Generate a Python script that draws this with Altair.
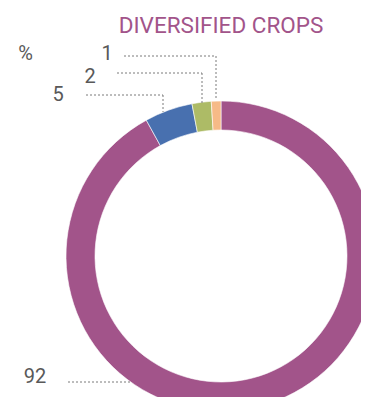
import altair as alt
import pandas as pd

# Data
categories = ["Main", "B", "C", "D"]
values = [92, 5, 2, 1]
colors = ["#A2548A", "#4870AF", "#ADBB66", "#F6BA87"]
title_text = "DIVERSIFIED CROPS"
unit_text = "%"

# Annotation layout (pixel placement of the callouts)
label_x = [27, 50, 82, 99]
label_y = [369, 87, 69, 46]
leader_h = [(60, 124, 374), (78, 155, 87), (109, 194, 65), (116, 208, 48)]  # x1, x2, y
leader_v = [None, (155, 87, 104), (194, 65, 95), (208, 48, 92)]              # x, y1, y2

CX, CY = 213, 248
R_OUT, R_IN = 155, 126

df = pd.DataFrame({"cat": categories, "value": values, "idx": range(len(values))})

arc = alt.Chart(df).mark_arc(
    outerRadius=R_OUT, innerRadius=R_IN, x=CX, y=CY, stroke="white", strokeWidth=0.6
).encode(
    theta=alt.Theta("value:Q", stack=True),
    order=alt.Order("idx:Q"),
    color=alt.Color("cat:N", scale=alt.Scale(domain=categories, range=colors), legend=None),
)

lab_df = pd.DataFrame({"t": [str(v) for v in values], "x": label_x, "y": label_y})
labels = alt.Chart(lab_df).mark_text(
    font="Roboto", fontSize=20, color="#595959", baseline="middle", align="center"
).encode(
    x=alt.X("x:Q", scale=None), y=alt.Y("y:Q", scale=None), text="t:N"
)

seg_rows = []
for h in leader_h:
    seg_rows.append({"x": h[0], "x2": h[1], "y": h[2], "y2": h[2]})
for v in leader_v:
    if v is not None:
        seg_rows.append({"x": v[0], "x2": v[0], "y": v[1], "y2": v[2]})
seg_df = pd.DataFrame(seg_rows)
leaders = alt.Chart(seg_df).mark_rule(
    color="#7a7a7a", strokeWidth=1, strokeDash=[2, 2]
).encode(
    x=alt.X("x:Q", scale=None), x2="x2:Q",
    y=alt.Y("y:Q", scale=None), y2="y2:Q",
)

title = alt.Chart(pd.DataFrame({"t": [title_text]})).mark_text(
    font="Roboto", fontSize=22.5, color="#A2548A", baseline="middle", align="center"
).encode(x=alt.value(213), y=alt.value(18), text="t:N")

unit = alt.Chart(pd.DataFrame({"t": [unit_text]})).mark_text(
    font="Roboto", fontSize=20, color="#595959", baseline="middle", align="center"
).encode(x=alt.value(17.5), y=alt.value(46), text="t:N")

chart = alt.layer(arc, leaders, labels, title, unit).properties(
    width=353, height=389, padding=0, autosize=alt.AutoSizeParams(type="none")
).configure(background="white").configure_view(stroke=None)

chart.save("out.html", embed_options={"renderer": "svg", "actions": False})
